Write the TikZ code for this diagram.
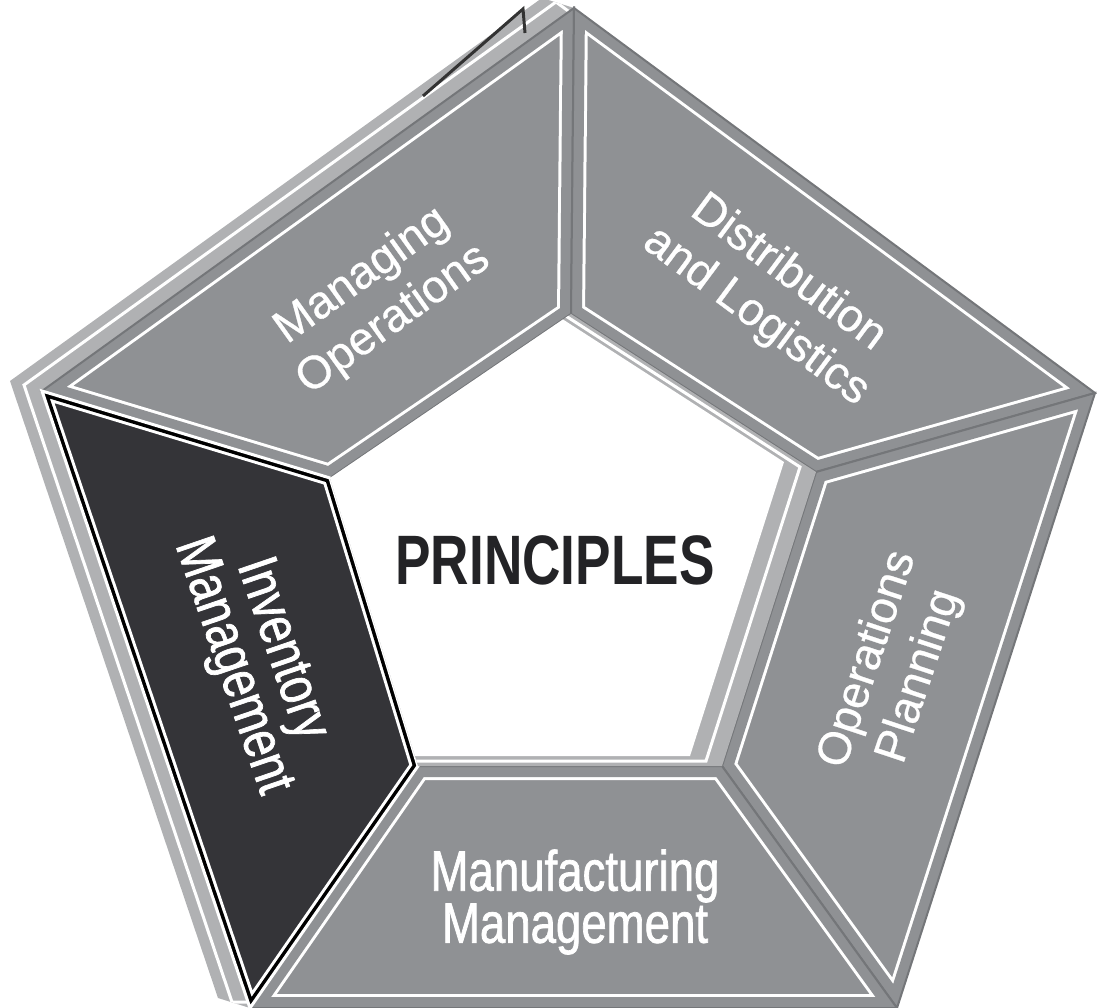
\documentclass[tikz,border=0pt]{standalone}
\usepackage{fontspec}
\setmainfont{Liberation Sans}
\newfontfamily\labelfont[FakeBold=0.6]{Liberation Sans}
\newfontfamily\condfont[FakeStretch=0.80,FakeBold=1.2]{Liberation Sans}
\newfontfamily\headfont[FakeStretch=0.76]{Liberation Sans}
\usetikzlibrary{calc}

\definecolor{tilegray}{RGB}{143,145,148}
\definecolor{wallgray}{RGB}{176,177,179}
\definecolor{tileedge}{RGB}{116,118,121}
\definecolor{imdark}{RGB}{52,52,56}
\definecolor{textdark}{RGB}{35,35,38}

% one tile of the ring: #1 = corner path, #2 = fill
\newcommand{\insettile}[2]{%
  \fill[#2] #1 -- cycle;
  \begin{scope}
    \clip #1 -- cycle;
    \draw[white,line width=28] #1 -- cycle;
    \draw[#2,line width=22] #1 -- cycle;
  \end{scope}
  \draw[tileedge,line width=2] #1 -- cycle;}

\begin{document}
\begin{tikzpicture}[x=1pt,y=-1pt,line join=miter,
  every node/.style={inner sep=0pt},
  seglabel/.style={text=white,align=center,font=\labelfont\fontsize{46}{54}\selectfont},
  condlabel/.style={text=white,align=center,font=\condfont\fontsize{57}{51}\selectfont},
  headlabel/.style={text=textdark,font=\headfont\bfseries\fontsize{70}{80}\selectfont},
  wallline/.style={white,line width=3},
  darkline/.style={gray!40!black,line width=3}]
  \useasboundingbox (0,0) rectangle (1097,1008);

  % front corners (outer / inner pentagon)
  \coordinate (o1) at (574,8);
  \coordinate (o2) at (1095,393);
  \coordinate (o3) at (897,1008);
  \coordinate (o4) at (250,1008);
  \coordinate (o5) at (42,391);
  \coordinate (i1) at (571,314);
  \coordinate (i2) at (816,472);
  \coordinate (i3) at (722,766);
  \coordinate (i4) at (418,766);
  \coordinate (i5) at (330,478);
  % back corners and wall middle
  \foreach \k in {1,...,5} {
    \coordinate (bo\k) at ($(o\k)+(-32,-10)$);
    \coordinate (mo\k) at ($(o\k)+(-18,-6)$);
    \coordinate (bi\k) at ($(i\k)+(-32,-10)$);
    \coordinate (mi\k) at ($(i\k)+(-16,-5)$);
  }
  \coordinate (dk1) at (423,96);
  \coordinate (dk2) at (523,9);
  \coordinate (dk3) at (525,33);

  % outer walls
  \fill[wallgray] (bo1) -- (o1) -- (o2) -- (o3) -- (o4) -- (bo4) -- (bo5) -- cycle;
  \begin{scope}
    \clip (bo1) -- (o1) -- (o2) -- (o3) -- (o4) -- (bo4) -- (bo5) -- cycle;
    \draw[wallline] (mo1) -- (mo2) -- (mo3) -- (mo4) -- (mo5) -- cycle;
  \end{scope}
  \draw[darkline] (dk1) -- (dk2) -- (dk3);

  % tiles
  \insettile{(o5) -- (o1) -- (i1) -- (i5)}{tilegray}
  \insettile{(o1) -- (o2) -- (i2) -- (i1)}{tilegray}
  \insettile{(o2) -- (o3) -- (i3) -- (i2)}{tilegray}
  \insettile{(o3) -- (o4) -- (i4) -- (i3)}{tilegray}

  % inventory tile (dark)
  \fill[imdark] (o4) -- (o5) -- (i5) -- (i4) -- cycle;
  \begin{scope}
    \clip (o4) -- (o5) -- (i5) -- (i4) -- cycle;
    \draw[white,line width=16] (o4) -- (o5) -- (i5) -- (i4) -- cycle;
    \draw[black,line width=10] (o4) -- (o5) -- (i5) -- (i4) -- cycle;
  \end{scope}
  \draw[white,line width=3] (o4) -- (o5) -- (i5) -- (i4) -- cycle;

  % centre with inner walls
  \fill[wallgray] (i1) -- (i2) -- (i3) -- (i4) -- (i5) -- cycle;
  \begin{scope}
    \clip (i1) -- (i2) -- (i3) -- (i4) -- (i5) -- cycle;
    \draw[wallline] (mi1) -- (mi2) -- (mi3) -- (mi4) -- (mi5) -- cycle;
    \fill[white] (bi1) -- (bi2) -- (bi3) -- (bi4) -- (bi5) -- cycle;
  \end{scope}

  % labels
  \node[seglabel,rotate=35.6] (mo) at (378,298) {Managing\\Operations};
  \node[seglabel,rotate=-36.6] (dl) at (772,295) {Distribution\\and Logistics};
  \node[seglabel,rotate=71.7] (op) at (894,668) {Operations\\Planning};
  \node[condlabel] (mm) at (575,902) {Manufacturing\\Management};
  \node[condlabel,rotate=-71.1] (im) at (256,658) {Inventory\\Management};
  \node[headlabel] (principles) at (555,560) {PRINCIPLES};
\end{tikzpicture}
\end{document}
